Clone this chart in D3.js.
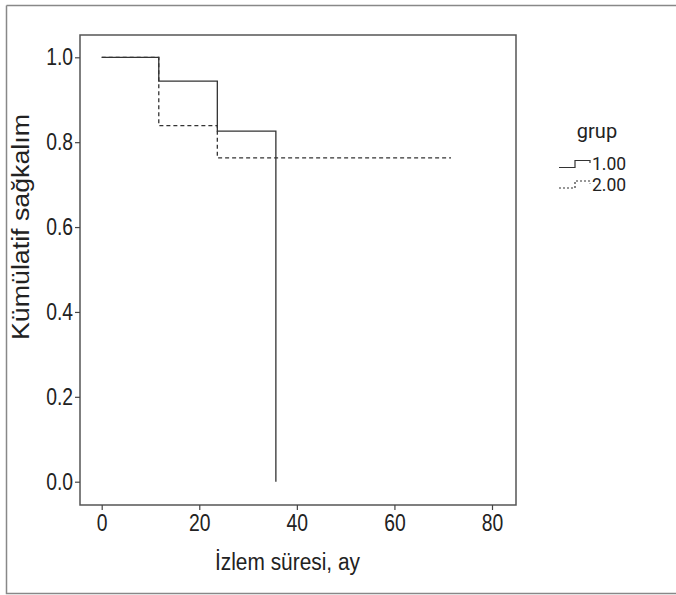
<!DOCTYPE html>
<html><head><meta charset="utf-8">
<script src="https://cdn.jsdelivr.net/npm/d3@7"></script>
<style>body{margin:0;background:#fff;} svg{display:block;}</style>
</head><body>
<script>
const xTicks = [0, 20, 40, 60, 80];
const yTicks = [0.0, 0.2, 0.4, 0.6, 0.8, 1.0];
const groups = ["1.00", "2.00"];
const g1Times = [0, 11.7, 23.7, 35.7];
const g1Surv = [1.0, 0.944, 0.826, 0.0];
const g2Times = [0, 11.7, 23.7, 71.6];
const g2Surv = [1.0, 0.839, 0.763, 0.763];

const W = 676, H = 595;
const narrow = "'Liberation Sans Narrow', 'Liberation Sans', Arial, sans-serif";
const svg = d3.select("body").append("svg").attr("width", W).attr("height", H);

function condense(sel, f) {
  sel.each(function() {
    const len = this.getComputedTextLength();
    d3.select(this).attr("textLength", len * f).attr("lengthAdjust", "spacingAndGlyphs");
  });
}

// outer frame
svg.append("path").attr("d", `M6.5,5.5 H${W+2} M6.5,5.5 V593.5 H${W+2}`)
  .attr("fill", "none").attr("stroke", "#888").attr("stroke-width", 1.5);

const x = d3.scaleLinear().domain([0, 80]).range([101.7, 492]);
const y = d3.scaleLinear().domain([0, 1]).range([481.7, 57.3]);
const L = 80, R = 516, T = 35, B = 505;

svg.append("rect").attr("x", L).attr("y", T).attr("width", R - L).attr("height", B - T)
  .attr("fill", "none").attr("stroke", "#555").attr("stroke-width", 1.5);

const ya = svg.append("g").attr("transform", `translate(${L},0)`)
  .call(d3.axisLeft(y).tickValues(yTicks).tickFormat(d3.format(".1f")).tickSize(5).tickPadding(2));
const xa = svg.append("g").attr("transform", `translate(0,${B})`)
  .call(d3.axisBottom(x).tickValues(xTicks).tickFormat(d3.format("d")).tickSize(5).tickPadding(5));
[ya, xa].forEach(a => {
  a.select(".domain").remove();
  a.selectAll("line").attr("stroke", "#444").attr("stroke-width", 1.2);
  a.selectAll("text").attr("font-family", narrow).attr("font-size", 23).attr("fill", "#222");
  condense(a.selectAll("text"), 0.84);
});

const xt = svg.append("text").attr("x", 287.5).attr("y", 570).attr("text-anchor", "middle")
  .attr("font-family", narrow).attr("font-size", 23).attr("fill", "#222").text("İzlem süresi, ay");
xt.attr("textLength", 145).attr("lengthAdjust", "spacingAndGlyphs");
const yt = svg.append("text").attr("transform", "translate(29,227) rotate(-90)").attr("text-anchor", "middle")
  .attr("font-family", narrow).attr("font-size", 23).attr("fill", "#222").text("Kümülatif sağkalım");
yt.attr("textLength", 226).attr("lengthAdjust", "spacingAndGlyphs");

const line = d3.line().x(d => x(d[0])).y(d => y(d[1])).curve(d3.curveStepAfter);
svg.append("path").datum(d3.zip(g2Times, g2Surv)).attr("d", line)
  .attr("fill", "none").attr("stroke", "#333").attr("stroke-width", 1.3).attr("stroke-dasharray", "4,3");
svg.append("path").datum(d3.zip(g1Times, g1Surv)).attr("d", line)
  .attr("fill", "none").attr("stroke", "#333").attr("stroke-width", 1.3);

// legend
const lg = svg.append("g");
lg.append("text").attr("x", 597).attr("y", 137.5).attr("text-anchor", "middle")
  .attr("font-family", "Roboto, sans-serif").attr("font-size", 20).attr("fill", "#222").text("grup");
const ly = [164, 184.5];
groups.forEach((gname, i) => {
  const yy = ly[i];
  lg.append("path").attr("d", `M559,${yy+3.5} H575 V${yy-3.5} H590 V${yy-1}`)
    .attr("fill", "none").attr("stroke", "#333").attr("stroke-width", 1.2)
    .attr("stroke-dasharray", i === 1 ? "2,2" : null);
  lg.append("text").attr("x", 592).attr("y", yy + 6.3).attr("font-family", "Roboto, sans-serif")
    .attr("font-size", 17.5).attr("fill", "#222").text(gname);
});
</script>
</body></html>
